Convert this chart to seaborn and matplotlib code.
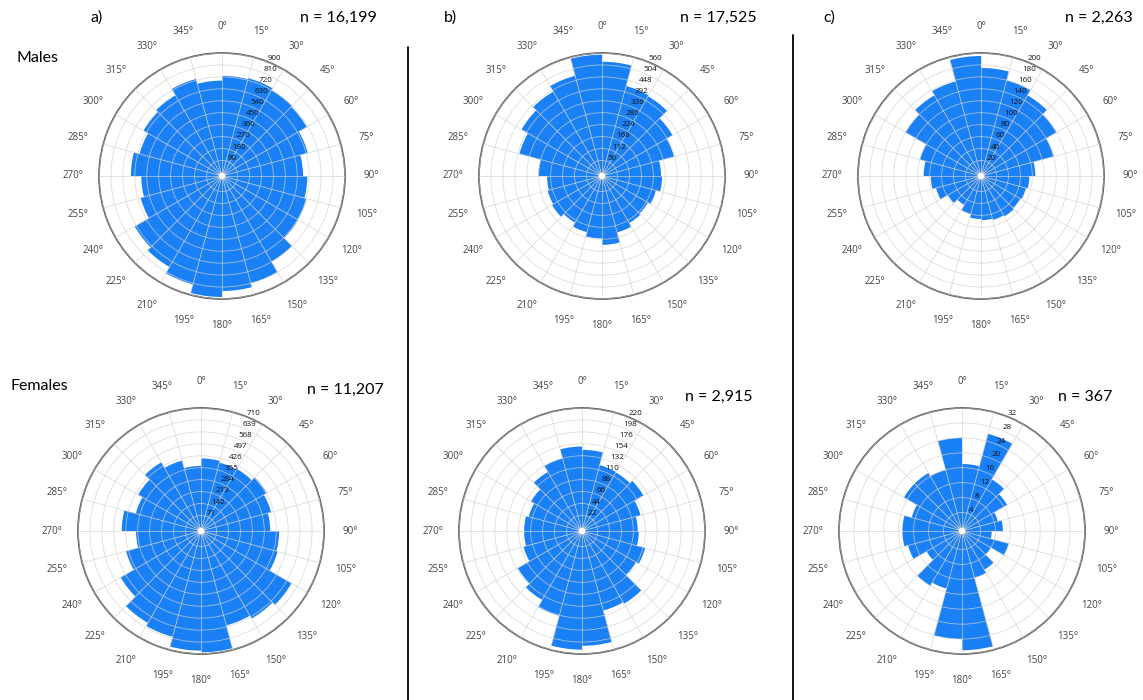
import matplotlib.pyplot as plt
import seaborn as sns
import pandas as pd
import numpy as np
import warnings
warnings.filterwarnings("ignore", category=FutureWarning, module="seaborn")
warnings.filterwarnings("ignore", category=UserWarning, module="matplotlib")

# 15 degree bins, clockwise from north, first bin is 0-15
bin_start = list(range(0, 360, 15))

# counts per bin
males_a = [728, 736, 720, 711, 642, 584, 616, 633, 635, 718, 809, 840,
           885, 819, 765, 733, 608, 581, 660, 616, 656, 675, 730, 692]
males_b = [519, 420, 415, 365, 333, 260, 265, 245, 232, 238, 257, 306,
           276, 256, 236, 254, 247, 241, 281, 384, 419, 440, 470, 552]
males_c = [175, 160, 150, 140, 120, 85, 75, 72, 70, 72, 70, 68,
           66, 60, 50, 58, 72, 78, 90, 100, 140, 150, 158, 195]
females_a = [410, 400, 405, 430, 410, 390, 443, 450, 600, 580, 560, 700,
             690, 630, 610, 530, 440, 365, 450, 380, 410, 450, 412, 366]
females_b = [143, 119, 118, 124, 105, 96, 98, 114, 108, 148, 145, 205,
             212, 155, 140, 130, 105, 100, 100, 95, 102, 119, 132, 149]
females_c = [17, 26, 15, 13, 9, 10, 7, 12, 8, 11, 12, 31,
             28, 15, 16, 10, 14, 15, 15, 13, 17, 17, 16, 24]

# radial ring step and number of rings per panel
ring_steps = [90, 56, 20, 71, 22, 4]
ring_counts = [10, 10, 10, 10, 10, 8]

panel_letters = ['a)', 'b)', 'c)']
sample_sizes = ['n = 16,199', 'n = 17,525', 'n = 2,263',
                'n = 11,207', 'n = 2,915', 'n = 367']
row_names = ['Males', 'Females']

BAR_BLUE = '#1a80f5'
W, H = 1143, 700

sns.set_theme(style='white')
plt.rcParams['font.family'] = ['Open Sans', 'DejaVu Sans']


def draw_rose(ax, values, step, n_rings):
    df = pd.DataFrame({'theta': np.deg2rad(np.array(bin_start) + 7.5),
                       'count': values})
    sns.barplot(data=df, x='theta', y='count', native_scale=True, width=1.0,
                color=BAR_BLUE, saturation=1, errorbar=None, linewidth=0,
                orient='x', ax=ax)
    ax.set_theta_zero_location('N')
    ax.set_theta_direction(-1)
    ax.set_xlim(0, 2 * np.pi)
    rmax = step * n_rings
    ax.set_ylim(0, rmax)
    ax.set_rorigin(-0.03 * rmax)
    rticks = np.arange(1, n_rings + 1) * step
    ax.set_yticks(rticks)
    ax.set_yticklabels([str(v) for v in rticks], fontsize=5.8, color='#111111')
    ax.set_rlabel_position(22)
    ax.set_xticks(np.deg2rad(bin_start))
    ax.set_xticklabels([f'{d}°' for d in bin_start], fontsize=7, color='#444444')
    ax.tick_params(axis='x', pad=6)
    # grid drawn over the bars, it shows as faint light lines inside the blue
    ax.grid(color='#d2d2d2', linewidth=0.6, alpha=0.75)
    ax.set_axisbelow(False)
    ax.spines['polar'].set_color('#666666')
    ax.spines['polar'].set_linewidth(1.3)
    ax.spines['inner'].set_color('#bbbbbb')
    ax.spines['inner'].set_linewidth(0.6)
    ax.set_xlabel('')
    ax.set_ylabel('')


fig = plt.figure(figsize=(W / 100, H / 100), dpi=100)

# panel centres in pixels (x, y from top), radius of the outer circle
centres = [(222, 176), (602, 176), (981, 176),
           (201, 531), (582, 531), (962, 531)]
R = 123
all_values = [males_a, males_b, males_c, females_a, females_b, females_c]

for i, (cx, cy) in enumerate(centres):
    ax = fig.add_axes([(cx - R) / W, (H - cy - R) / H, 2 * R / W, 2 * R / H],
                      projection='polar')
    draw_rose(ax, all_values[i], ring_steps[i], ring_counts[i])

# annotations (pixel positions from top-left)
label_font = dict(family=['Lato', 'DejaVu Sans'], fontsize=11.5, color='black')
for txt, x in zip(panel_letters, [97, 450, 829]):
    fig.text(x / W, 1 - 18 / H, txt, ha='center', va='center', **label_font)

n_pos = [(300, 18), (680, 18), (1065, 18), (307, 390), (685, 397), (1058, 397)]
for txt, (x, y) in zip(sample_sizes, n_pos):
    fig.text(x / W, 1 - y / H, txt, ha='left', va='center', **label_font)

fig.text(16 / W, 1 - 58 / H, row_names[0], ha='left', va='center', **label_font)
fig.text(10 / W, 1 - 386 / H, row_names[1], ha='left', va='center', **label_font)

# separators between the columns
for x, top in [(408, 47), (793, 35)]:
    fig.add_artist(plt.Line2D([x / W, x / W], [0, 1 - top / H],
                              transform=fig.transFigure, color='black', linewidth=1.3))

fig.savefig('out.png', dpi=100)
